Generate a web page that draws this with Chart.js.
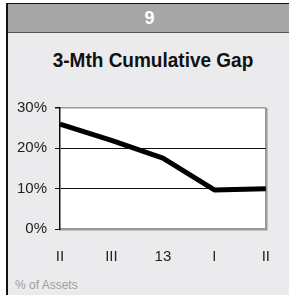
<!DOCTYPE html>
<html>
<head>
<meta charset="utf-8">
<script src="https://cdn.jsdelivr.net/npm/chart.js@4.4.1/dist/chart.umd.min.js"></script>
<style>
    html, body {
        margin: 0;
        padding: 0;
        background: #ffffff;
        width: 289px;
        height: 295px;
        overflow: hidden;
        font-family: "Liberation Sans", Arial, sans-serif;
    }
    #panel {
        position: absolute;
        left: 6px;
        top: 3px;
        width: 283px;
        height: 292px;
        border-left: 2px solid #111;
        border-top: 1px solid #111;
        background: #ebebed;
    }
    #panel-header {
        height: 28px;
        background: #a6a6a6;
        border-bottom: 1px solid #555;
        color: #ffffff;
        font-weight: bold;
        font-size: 18px;
        line-height: 28px;
        text-align: center;
        transform-origin: center;
    }
    #panel-title {
        position: absolute;
        left: 0;
        top: 45px;
        width: 290px;
        text-align: center;
        font-weight: bold;
        font-size: 19px;
        color: #111;
        transform: scaleY(1.1);
    }
    #panel-note {
        position: absolute;
        left: 7px;
        top: 274px;
        font-size: 12px;
        color: #a0a0a0;
    }
    #gap-chart {
        position: absolute;
        left: 0;
        top: 90px;
    }
</style>
</head>
<body>
<div id="panel">
    <div id="panel-header">9</div>
    <div id="panel-title">3-Mth Cumulative Gap</div>
    <div id="panel-note">% of Assets</div>
</div>
<canvas id="gap-chart" width="289" height="180"></canvas>

<script>
// Quarter labels along the bottom
const quarterLabels = ['II', 'III', '13', 'I', 'II'];

// 3-month cumulative gap, % of assets
const gapValues = [26.0, 22.0, 17.6, 9.7, 10.0];

// Y axis ticks
const yTicks = [0, 10, 20, 30];

/**
 * Fill plot area white before anything else is drawn
 */
const plotBackground = {
    id: 'plotBackground',
    beforeDraw(chart) {
        const area = chart.chartArea;
        const ctx = chart.ctx;
        ctx.save();
        ctx.fillStyle = '#ffffff';
        ctx.fillRect(area.left, area.top, area.right - area.left, area.bottom - area.top);
        ctx.restore();
    }
};

/**
 * Build the chart
 */
function initGapChart() {
    const canvas = document.getElementById('gap-chart');

    new Chart(canvas, {
        type: 'line',
        data: {
            labels: quarterLabels,
            datasets: [{
                label: '3-Mth Cumulative Gap',
                data: gapValues,
                borderColor: '#000000',
                borderWidth: 5,
                borderJoinStyle: 'round',
                pointRadius: 0,
                tension: 0,
                fill: false
            }]
        },
        options: {
            responsive: false,
            animation: false,
            devicePixelRatio: 1,
            layout: {
                padding: { left: 0, right: 19, top: 18, bottom: 0 }
            },
            plugins: {
                legend: { display: false },
                tooltip: { enabled: false }
            },
            scales: {
                x: {
                    offset: false,
                    afterFit: (scale) => { scale.height = 41; },
                    grid: {
                        drawTicks: false,
                        color: (ctx) => ctx.index === quarterLabels.length - 1 ? '#999999' : 'rgba(0,0,0,0)',
                        lineWidth: 2.5
                    },
                    border: { color: '#999999', width: 2.5 },
                    ticks: {
                        color: '#222222',
                        padding: 19,
                        maxRotation: 0,
                        autoSkip: false,
                        font: { family: '"Liberation Sans", Arial, sans-serif', size: 15 }
                    }
                },
                y: {
                    min: yTicks[0],
                    max: yTicks[yTicks.length - 1],
                    afterFit: (scale) => { scale.width = 60; },
                    afterBuildTicks: (scale) => {
                        scale.ticks = yTicks.map(v => ({ value: v }));
                    },
                    grid: {
                        tickLength: 5,
                        tickColor: '#111111',
                        color: (ctx) => {
                            const v = ctx.tick.value;
                            if (v === 0) return 'rgba(0,0,0,0)';
                            if (v === 30) return '#999999';
                            return '#111111';
                        },
                        lineWidth: (ctx) => ctx.tick.value === 30 ? 1.5 : 1
                    },
                    border: { color: '#111111', width: 1.5 },
                    ticks: {
                        color: '#222222',
                        padding: 8,
                        callback: (value) => value + '%',
                        font: { family: '"Liberation Sans", Arial, sans-serif', size: 15 }
                    }
                }
            }
        },
        plugins: [plotBackground]
    });
}

initGapChart();
</script>
</body>
</html>
